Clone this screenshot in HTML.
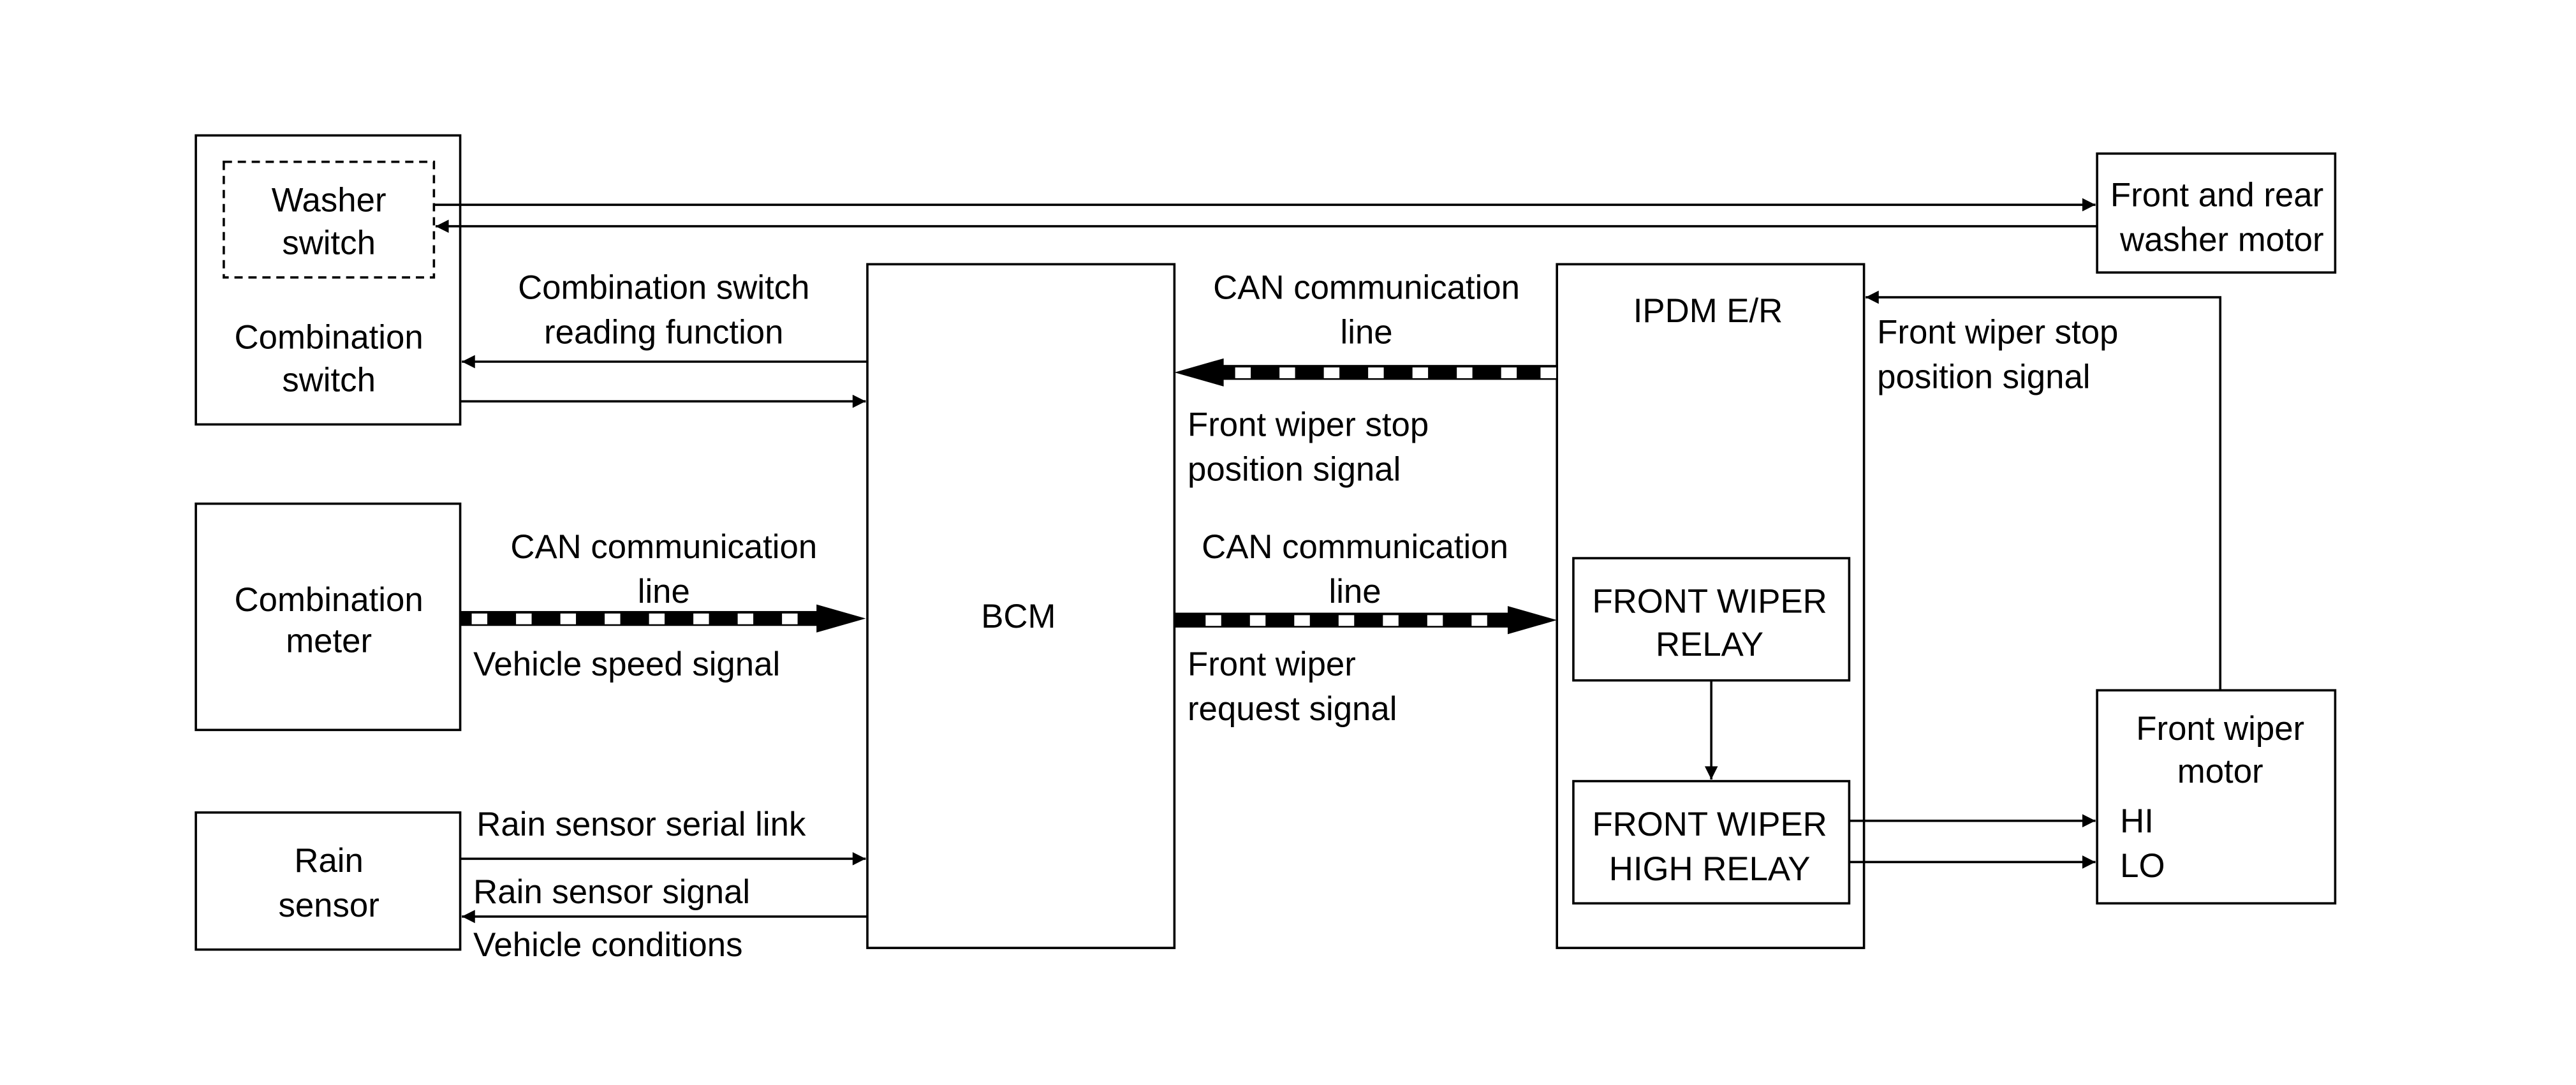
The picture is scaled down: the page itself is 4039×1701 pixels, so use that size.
<!DOCTYPE html>
<html><head><meta charset="utf-8"><style>html,body{margin:0;padding:0;background:#fff}svg{display:block}text{font-family:"Liberation Sans",Arial,sans-serif;font-size:20.5px;fill:#000}</style></head><body>
<svg width="4039" height="1701" viewBox="0 0 1560 657" xmlns="http://www.w3.org/2000/svg">
<defs>
<marker id="a" viewBox="0 0 10 10" refX="10" refY="5" markerWidth="13" markerHeight="8" markerUnits="userSpaceOnUse" orient="auto"><path d="M0,0L10,5L0,10z"/></marker>
</defs>
<g transform="matrix(0.9943,0,0,1,0.28,0)">
<g fill="none" stroke="#000" stroke-width="1.4">
<rect x="119" y="82" width="161" height="175"/>
<rect x="136" y="98" width="128" height="70" stroke-dasharray="5,3.5"/>
<rect x="1277" y="93" width="145" height="72"/>
<rect x="528" y="160" width="187" height="414"/>
<rect x="119" y="305" width="161" height="137"/>
<rect x="119" y="492" width="161" height="83"/>
<rect x="948" y="160" width="187" height="414"/>
<rect x="958" y="338" width="168" height="74"/>
<rect x="958" y="473" width="168" height="74"/>
<rect x="1277" y="418" width="145" height="129"/>
<line x1="264" y1="124" x2="1276" y2="124" marker-end="url(#a)"/>
<line x1="1277" y1="137" x2="265" y2="137" marker-end="url(#a)"/>
<line x1="528" y1="219" x2="281" y2="219" marker-end="url(#a)"/>
<line x1="280" y1="243" x2="527" y2="243" marker-end="url(#a)"/>
<line x1="280" y1="520" x2="527" y2="520" marker-end="url(#a)"/>
<line x1="528" y1="555" x2="281" y2="555" marker-end="url(#a)"/>
<line x1="1042" y1="412" x2="1042" y2="472" marker-end="url(#a)"/>
<line x1="1126" y1="497" x2="1276" y2="497" marker-end="url(#a)"/>
<line x1="1126" y1="522" x2="1276" y2="522" marker-end="url(#a)"/>
<polyline points="1352,418 1352,180 1136,180" marker-end="url(#a)"/>
</g>
<rect x="280" y="370" width="220" height="9"/>
<path d="M497,366L527,374.5L497,383z"/>
<g fill="#fff">
<rect x="287" y="371.5" width="9.5" height="6.5"/><rect x="314" y="371.5" width="9.5" height="6.5"/><rect x="341" y="371.5" width="9.5" height="6.5"/><rect x="368" y="371.5" width="9.5" height="6.5"/><rect x="395" y="371.5" width="9.5" height="6.5"/><rect x="422" y="371.5" width="9.5" height="6.5"/><rect x="449" y="371.5" width="9.5" height="6.5"/><rect x="476" y="371.5" width="9.5" height="6.5"/>
</g>
<rect x="715" y="371" width="206" height="9"/>
<path d="M918,367L948,375.5L918,384z"/>
<g fill="#fff">
<rect x="734" y="372.5" width="9.5" height="6.5"/><rect x="761" y="372.5" width="9.5" height="6.5"/><rect x="788" y="372.5" width="9.5" height="6.5"/><rect x="815" y="372.5" width="9.5" height="6.5"/><rect x="842" y="372.5" width="9.5" height="6.5"/><rect x="869" y="372.5" width="9.5" height="6.5"/><rect x="896" y="372.5" width="9.5" height="6.5"/>
</g>
<rect x="742" y="221" width="206" height="9"/>
<path d="M745,217L715,225.5L745,234z"/>
<g fill="#fff">
<rect x="752" y="222.5" width="9.5" height="6.5"/><rect x="779" y="222.5" width="9.5" height="6.5"/><rect x="806" y="222.5" width="9.5" height="6.5"/><rect x="833" y="222.5" width="9.5" height="6.5"/><rect x="860" y="222.5" width="9.5" height="6.5"/><rect x="887" y="222.5" width="9.5" height="6.5"/><rect x="914" y="222.5" width="9.5" height="6.5"/><rect x="938" y="222.5" width="9.5" height="6.5"/>
</g>
<g text-anchor="middle">
<text x="200" y="128">Washer</text><text x="200" y="154">switch</text>
<text x="200" y="211">Combination</text><text x="200" y="237">switch</text>
<text x="1350" y="125">Front and rear</text><text x="1353" y="152">washer motor</text>
<text x="404" y="181">Combination switch</text><text x="404" y="208">reading function</text>
<text x="200" y="370">Combination</text><text x="200" y="395">meter</text>
<text x="404" y="338">CAN communication</text><text x="404" y="365">line</text>
<text x="620" y="380">BCM</text>
<text x="200" y="528">Rain</text><text x="200" y="555">sensor</text>
<text x="1040" y="195">IPDM E/R</text>
<text x="832" y="181">CAN communication</text><text x="832" y="208">line</text>
<text x="825" y="338">CAN communication</text><text x="825" y="365">line</text>
<text x="1041" y="371">FRONT WIPER</text><text x="1041" y="397">RELAY</text>
<text x="1041" y="506">FRONT WIPER</text><text x="1041" y="533">HIGH RELAY</text>
<text x="1352" y="448">Front wiper</text><text x="1352" y="474">motor</text>
</g>
<text x="288" y="409">Vehicle speed signal</text>
<text x="290" y="506">Rain sensor serial link</text>
<text x="288" y="547">Rain sensor signal</text>
<text x="288" y="579">Vehicle conditions</text>
<text x="723" y="264">Front wiper stop</text><text x="723" y="291">position signal</text>
<text x="723" y="409">Front wiper</text><text x="723" y="436">request signal</text>
<text x="1143" y="208">Front wiper stop</text><text x="1143" y="235">position signal</text>
<text x="1291" y="504">HI</text><text x="1291" y="531">LO</text>
</g>
</svg>
</body></html>
